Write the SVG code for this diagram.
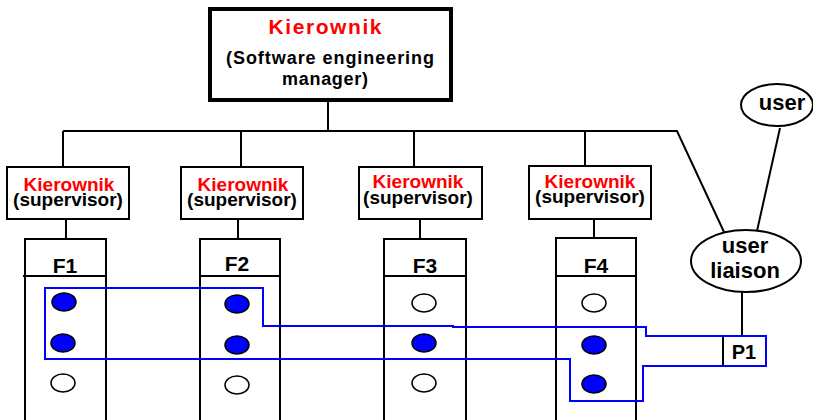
<svg xmlns="http://www.w3.org/2000/svg" width="813" height="420" viewBox="0 0 813 420">
<style>
text{font-family:"Liberation Sans",Arial,sans-serif;font-weight:bold;text-anchor:middle}
.red{fill:#ff0000}
.blk{fill:#000}
.box{fill:#fff;stroke:#000;stroke-width:2}
.ln{fill:none;stroke:#000;stroke-width:2}
.dotb{fill:#0000ff;stroke:#000;stroke-width:1.5}
.dotw{fill:#fff;stroke:#000;stroke-width:1.5}
.blue{fill:none;stroke:#0000ff;stroke-width:2}
</style>
<rect width="813" height="420" fill="#fff"/>
<g id="connectors">
<path class="ln" d="M328,100V131M63,131H677L724,232M63,131V167M241,131V167M414,131V167M585,131V167"/>
<path class="ln" d="M66,219V239M238,219V239M420,219V239M594,219V239"/>
<path class="ln" d="M780,128L757,231M742,292V336"/>
</g>
<g id="manager">
<rect x="210" y="9" width="241" height="91" fill="#fff" stroke="#000" stroke-width="4"/>
<text class="red" x="325" y="34" font-size="21" textLength="113" lengthAdjust="spacing">Kierownik</text>
<text class="blk" x="330" y="64" font-size="18" textLength="208" lengthAdjust="spacing">(Software engineering</text>
<text class="blk" x="325" y="85" font-size="18" textLength="86" lengthAdjust="spacing">manager)</text>
</g>
<g id="sup1">
<rect class="box" x="7" y="167" width="122" height="52"/>
<text class="red" x="69" y="191" font-size="19">Kierownik</text>
<text class="blk" x="68" y="206" font-size="19">(supervisor)</text>
</g>
<g id="sup2">
<rect class="box" x="181" y="167" width="122" height="52"/>
<text class="red" x="243" y="191" font-size="19">Kierownik</text>
<text class="blk" x="242" y="206" font-size="19">(supervisor)</text>
</g>
<g id="sup3">
<rect class="box" x="359" y="167" width="123" height="52"/>
<text class="red" x="418" y="188" font-size="19">Kierownik</text>
<text class="blk" x="418" y="204" font-size="19">(supervisor)</text>
</g>
<g id="sup4">
<rect class="box" x="529" y="166" width="122" height="53"/>
<text class="red" x="590" y="188" font-size="19">Kierownik</text>
<text class="blk" x="590" y="203" font-size="19">(supervisor)</text>
</g>
<g id="F1">
<rect class="box" x="25" y="239" width="81" height="182"/>
<path class="ln" d="M23,276H107"/>
<text class="blk" x="65" y="273" font-size="21">F1</text>
<ellipse class="dotb" cx="64" cy="302" rx="12" ry="9"/>
<ellipse class="dotb" cx="63" cy="343" rx="12" ry="9"/>
<ellipse class="dotw" cx="63" cy="383" rx="12" ry="9"/>
</g>
<g id="F2">
<rect class="box" x="200" y="239" width="80" height="182"/>
<path class="ln" d="M200,276H280"/>
<text class="blk" x="237" y="271" font-size="21">F2</text>
<ellipse class="dotb" cx="237" cy="304" rx="12" ry="9"/>
<ellipse class="dotb" cx="237" cy="345" rx="12" ry="9"/>
<ellipse class="dotw" cx="237" cy="385" rx="12" ry="9"/>
</g>
<g id="F3">
<rect class="box" x="384" y="239" width="82" height="182"/>
<path class="ln" d="M383,276H466"/>
<text class="blk" x="425" y="273" font-size="21">F3</text>
<ellipse class="dotw" cx="424" cy="303" rx="12" ry="9"/>
<ellipse class="dotb" cx="424" cy="343" rx="12" ry="9"/>
<ellipse class="dotw" cx="424" cy="383" rx="12" ry="9"/>
</g>
<g id="F4">
<rect class="box" x="556" y="238" width="80" height="183"/>
<path class="ln" d="M556,276H636"/>
<text class="blk" x="596" y="273" font-size="21">F4</text>
<ellipse class="dotw" cx="594" cy="303" rx="12" ry="9"/>
<ellipse class="dotb" cx="594" cy="345" rx="12" ry="9"/>
<ellipse class="dotb" cx="594" cy="384" rx="12" ry="9"/>
</g>
<g id="user">
<ellipse class="box" cx="777" cy="105" rx="36" ry="21"/>
<text class="blk" x="782" y="110" font-size="22">user</text>
</g>
<g id="liaison">
<ellipse class="box" cx="746" cy="261" rx="55" ry="31"/>
<text class="blk" x="745" y="253" font-size="22">user</text>
<text class="blk" x="745" y="278" font-size="22">liaison</text>
</g>
<g id="P1">
<rect class="box" x="723" y="336" width="43" height="30"/>
<text class="blk" x="744" y="359" font-size="20">P1</text>
</g>
<g id="process">
<path class="blue" d="M45,288H263V326H453V327H646V336H766V366H643V401H570V359H45Z"/>
</g>
</svg>
